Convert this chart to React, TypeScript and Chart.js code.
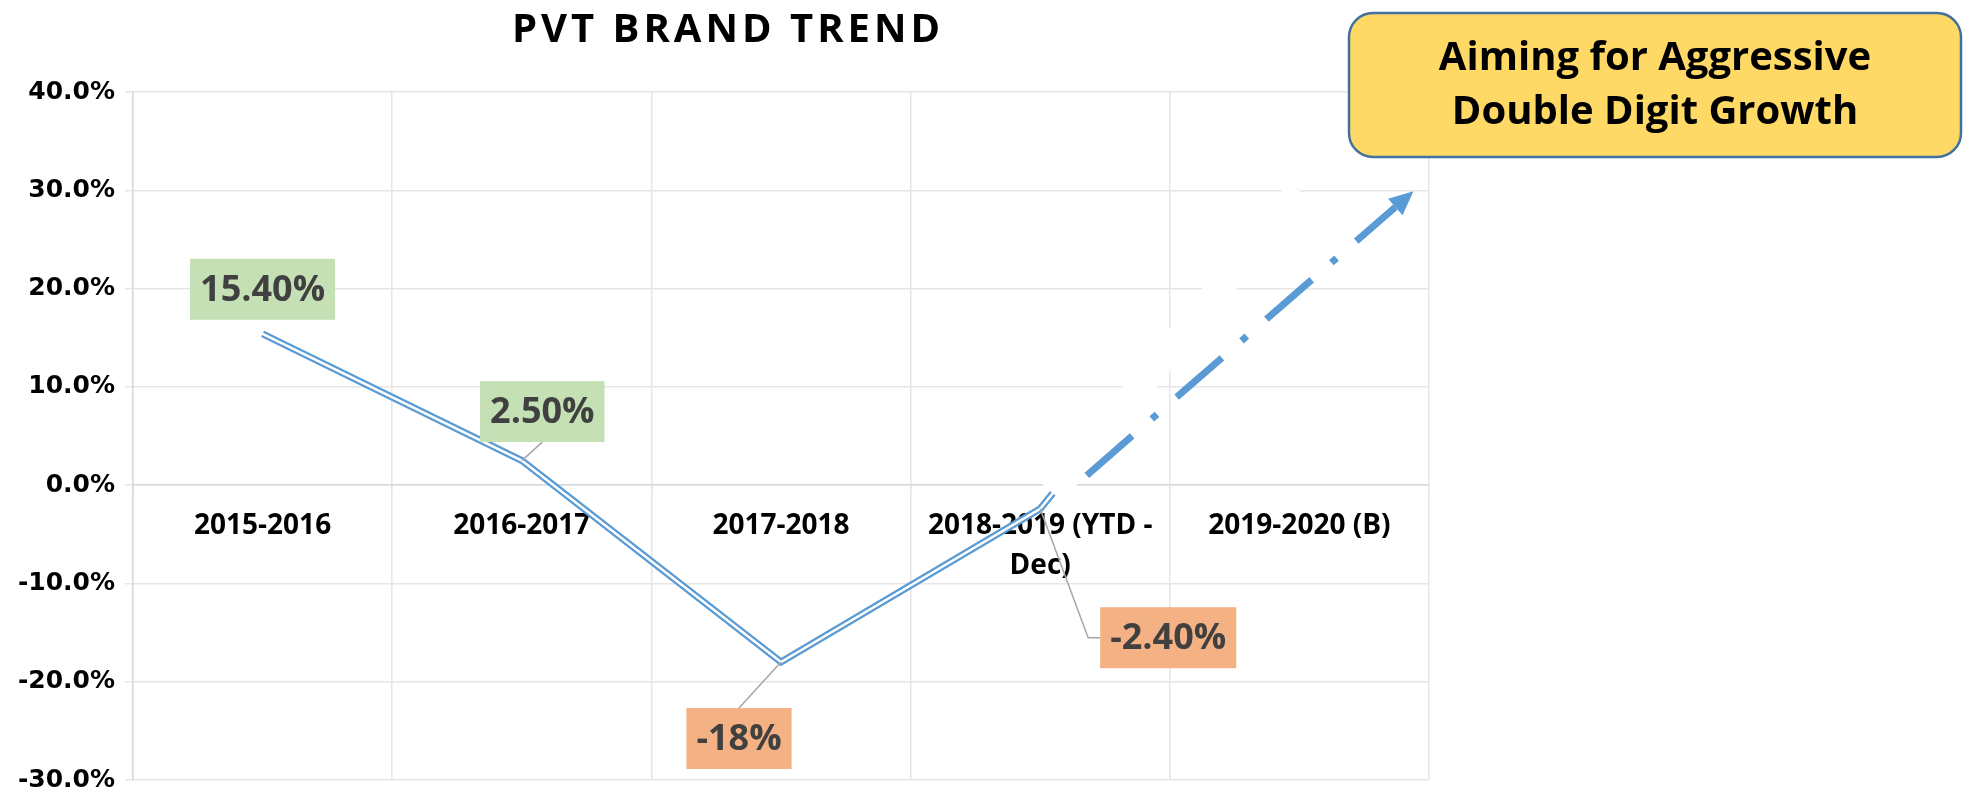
import React, { useEffect, useRef } from 'react';
import { Chart, registerables } from 'chart.js';

Chart.register(...registerables);

// ---------- data ----------
const categories: (string | string[])[] = [
  '2015-2016',
  '2016-2017',
  '2017-2018',
  ['2018-2019 (YTD -', 'Dec)'],
  '2019-2020 (B)',
];
const growth = [15.4, 2.5, -18, -2.4, 30];
const growthLabels = ['15.40%', '2.50%', '-18%', '-2.40%', ''];
const hiddenFromIndex = 3; // segment from 2018-2019 to 2019-2020 is blanked out
const yMin = -30;
const yMax = 40;
const yStep = 10;
const titleText = 'PVT BRAND TREND';
const calloutLines = ['Aiming for Aggressive', 'Double Digit Growth'];
const arrowFrom = { x: 3.18, y: 1 };
const arrowTo = { x: 4.44, y: 29.9 };

// ---------- styles ----------
const BLUE = '#5B9BD5';
const GRID = '#e6e6e6';
const AXIS = '#d9d9d9';
const labelStyle = [
  { dx: 0, dy: -44.5, leader: 'none' },
  { dx: 20.5, dy: -49, leader: 'bottom' },
  { dx: -42, dy: 76.5, leader: 'top' },
  { dx: 128, dy: 129, leader: 'left' },
];

const decorPlugin = {
  id: 'decor',
  afterDatasetsDraw(chart: any) {
    const ctx: CanvasRenderingContext2D = chart.ctx;
    const xs = chart.scales.x;
    const ys = chart.scales.y;

    // dash-dot arrow
    const sx = xs.getPixelForValue(arrowFrom.x);
    const sy = ys.getPixelForValue(arrowFrom.y);
    const ex = xs.getPixelForValue(arrowTo.x);
    const ey = ys.getPixelForValue(arrowTo.y);
    const ddx = ex - sx;
    const ddy = ey - sy;
    const len = Math.hypot(ddx, ddy);
    const ux = ddx / len;
    const uy = ddy / len;
    const headLen = 24;
    const headHalf = 11;
    const bx = ex - ux * headLen;
    const by = ey - uy * headLen;
    ctx.save();
    ctx.strokeStyle = BLUE;
    ctx.lineWidth = 7;
    ctx.lineCap = 'butt';
    ctx.setLineDash([60, 26, 7, 26]);
    ctx.beginPath();
    ctx.moveTo(sx, sy);
    ctx.lineTo(bx, by);
    ctx.stroke();
    ctx.setLineDash([]);
    ctx.fillStyle = BLUE;
    ctx.beginPath();
    ctx.moveTo(ex, ey);
    ctx.lineTo(bx - uy * headHalf, by + ux * headHalf);
    ctx.lineTo(bx + uy * headHalf, by - ux * headHalf);
    ctx.closePath();
    ctx.fill();
    ctx.restore();

    // data labels
    const meta = chart.getDatasetMeta(0);
    ctx.save();
    ctx.font = 'bold 36px "Open Sans"';
    ctx.textAlign = 'center';
    ctx.textBaseline = 'middle';
    labelStyle.forEach((st, i) => {
      const text = growthLabels[i];
      if (!text) return;
      const p = meta.data[i];
      const tw = ctx.measureText(text).width;
      const w = tw + 20;
      const h = 61;
      const cx = p.x + st.dx;
      const cy = p.y + st.dy;
      const left = cx - w / 2;
      const top = cy - h / 2;
      ctx.strokeStyle = '#A6A6A6';
      ctx.lineWidth = 1.5;
      ctx.beginPath();
      if (st.leader === 'bottom') {
        ctx.moveTo(p.x, p.y);
        ctx.lineTo(cx, top + h);
      } else if (st.leader === 'top') {
        ctx.moveTo(p.x, p.y);
        ctx.lineTo(cx, top);
      } else if (st.leader === 'left') {
        ctx.moveTo(p.x, p.y);
        ctx.lineTo(left - 12, cy);
        ctx.lineTo(left, cy);
      }
      ctx.stroke();
      ctx.fillStyle = growth[i] >= 0 ? '#C5E0B4' : '#F4B183';
      ctx.fillRect(left, top, w, h);
      ctx.fillStyle = '#404040';
      ctx.fillText(text, cx, cy + 1);
    });
    ctx.restore();
  },
  afterDraw(chart: any) {
    const ctx: CanvasRenderingContext2D = chart.ctx;
    // title
    ctx.save();
    ctx.font = 'bold 40px "Open Sans"';
    (ctx as any).letterSpacing = '4px';
    ctx.fillStyle = '#000';
    ctx.textAlign = 'center';
    ctx.textBaseline = 'alphabetic';
    ctx.fillText(titleText, 728, 42);
    (ctx as any).letterSpacing = '0px';
    ctx.restore();

    // callout box
    const bx = 1349, by = 13, bw = 612, bh = 144, r = 24;
    ctx.save();
    ctx.beginPath();
    ctx.moveTo(bx + r, by);
    ctx.lineTo(bx + bw - r, by);
    ctx.arcTo(bx + bw, by, bx + bw, by + r, r);
    ctx.lineTo(bx + bw, by + bh - r);
    ctx.arcTo(bx + bw, by + bh, bx + bw - r, by + bh, r);
    ctx.lineTo(bx + r, by + bh);
    ctx.arcTo(bx, by + bh, bx, by + bh - r, r);
    ctx.lineTo(bx, by + r);
    ctx.arcTo(bx, by, bx + r, by, r);
    ctx.closePath();
    ctx.fillStyle = '#FFD966';
    ctx.fill();
    ctx.strokeStyle = '#41719C';
    ctx.lineWidth = 2.5;
    ctx.stroke();
    ctx.fillStyle = '#000';
    ctx.font = 'bold 40px "Open Sans"';
    ctx.textAlign = 'center';
    ctx.textBaseline = 'middle';
    ctx.fillText(calloutLines[0], bx + bw / 2, 59);
    ctx.fillText(calloutLines[1], bx + bw / 2, 113);
    ctx.restore();
  },
};

export default function App() {
  const ref = useRef<HTMLCanvasElement>(null);
  useEffect(() => {
    if (!ref.current) return;
    const masked = growth.map((v, i) => (i >= hiddenFromIndex ? v : null));
    const chart = new Chart(ref.current, {
      type: 'line',
      data: {
        labels: categories as any,
        datasets: [
          {
            label: 'outer',
            data: growth,
            borderColor: BLUE,
            borderWidth: 7,
            pointRadius: 0,
            tension: 0,
            order: 3,
          },
          {
            label: 'inner',
            data: growth,
            borderColor: '#ffffff',
            borderWidth: 2.5,
            pointRadius: 0,
            tension: 0,
            order: 2,
          },
          {
            label: 'mask',
            data: masked,
            borderColor: '#ffffff',
            borderWidth: 27,
            borderDash: [0, 20, 5000, 0],
            pointRadius: 0,
            tension: 0,
            order: 1,
          },
        ],
      },
      options: {
        animation: false,
        responsive: false,
        devicePixelRatio: 1,
        layout: { padding: { top: 92, right: 536, bottom: 15, left: 0 } },
        plugins: {
          legend: { display: false },
          tooltip: { enabled: false },
          title: { display: false },
        },
        scales: {
          x: {
            position: { y: 0 } as any,
            offset: true,
            grid: { offset: true, color: GRID, lineWidth: 1.5, tickLength: 8, drawTicks: true },
            border: { display: true, color: AXIS, width: 1.5 },
            ticks: {
              font: { family: '"Open Sans"', weight: 'bold', size: 28, lineHeight: 1.43 },
              color: '#000',
              padding: 13,
              maxRotation: 0,
              autoSkip: false,
            },
          },
          y: {
            min: yMin,
            max: yMax,
            ticks: {
              stepSize: yStep,
              callback: (v: any) => Number(v).toFixed(1) + '%',
              font: { family: '"DejaVu Sans"', weight: 'bold', size: 25, lineHeight: 0.2 },
              color: '#000',
              padding: 10,
            },
            grid: { color: GRID, lineWidth: 1.5, tickLength: 8 },
            border: { display: true, color: AXIS, width: 1.5 },
            afterFit: (s: any) => {
              s.width = 133;
            },
          },
        },
      },
      plugins: [decorPlugin],
    });
    return () => chart.destroy();
  }, []);
  return (
    <div style={{ position: 'absolute', left: 0, top: 0, width: 1965, height: 795, background: '#fff' }}>
      <canvas ref={ref} width={1965} height={795} style={{ display: 'block' }} />
    </div>
  );
}
